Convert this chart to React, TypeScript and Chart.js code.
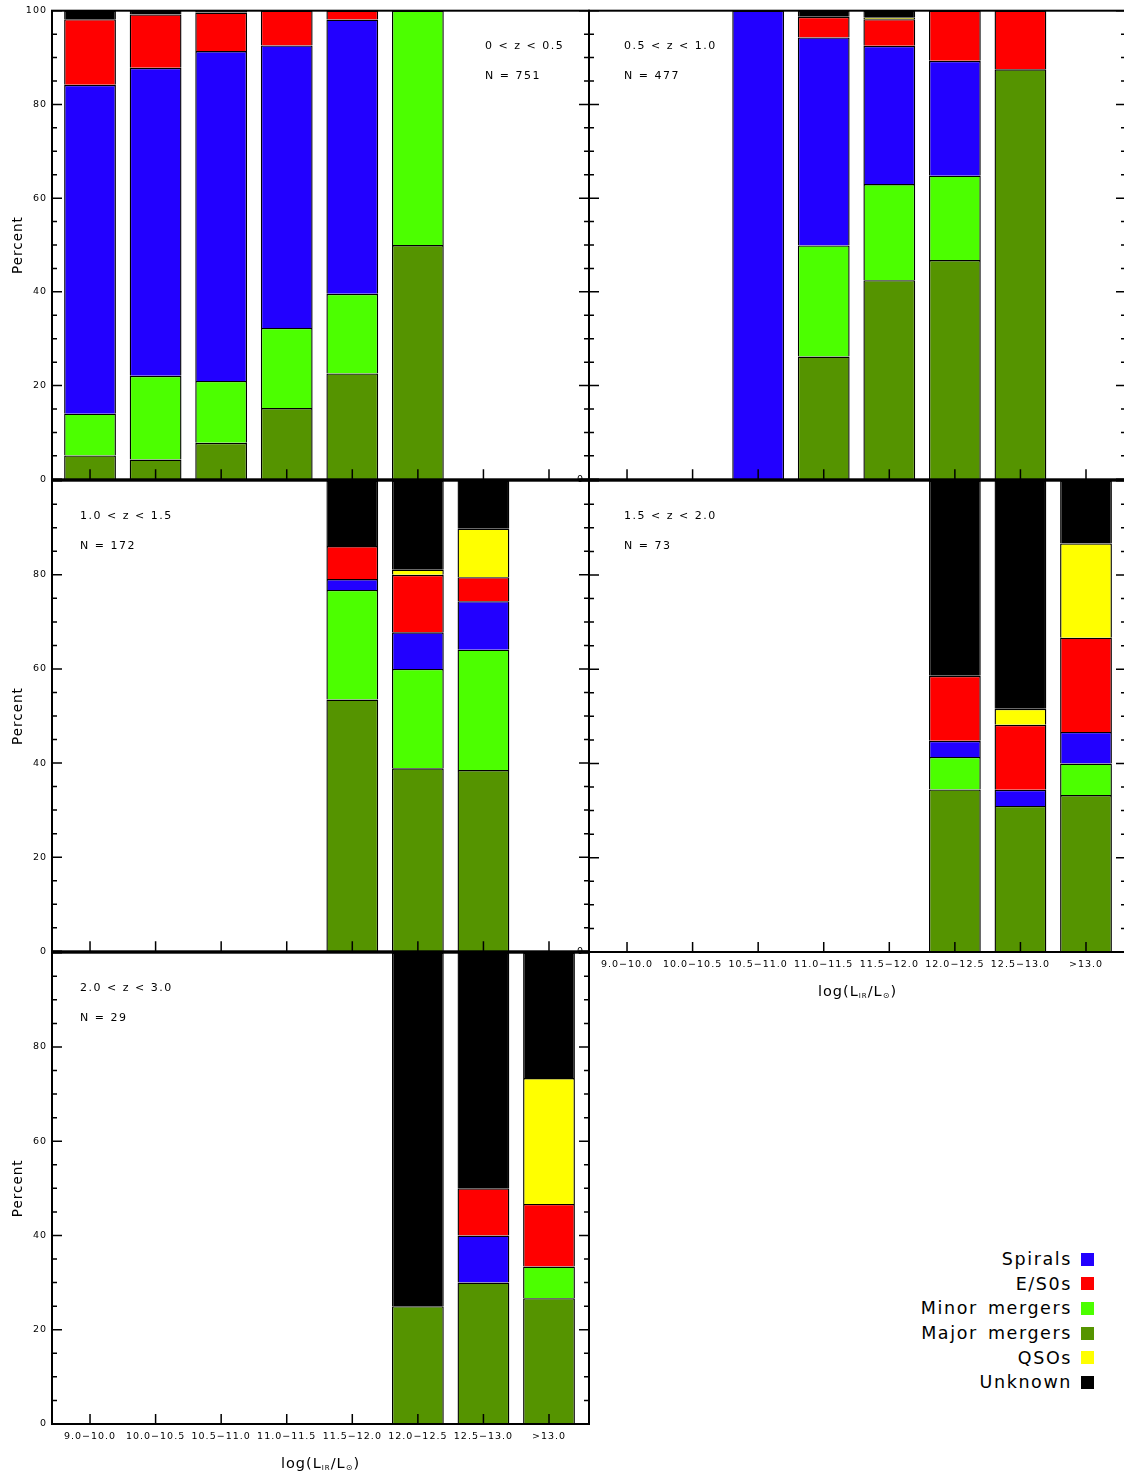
import React, { useEffect, useRef } from 'react';
import { Chart, registerables } from 'chart.js';

Chart.register(...registerables);

const FONT = '"DejaVu Sans", "Liberation Sans", sans-serif';
Chart.defaults.font.family = FONT;
Chart.defaults.color = '#000';

// Infrared luminosity bins, log(L_IR / L_sun)
const LUM_BINS = ['9.0−10.0', '10.0−10.5', '10.5−11.0', '11.0−11.5', '11.5−12.0', '12.0−12.5', '12.5−13.0', '>13.0'];
const Z_RANGES = ['0 < z < 0.5', '0.5 < z < 1.0', '1.0 < z < 1.5', '1.5 < z < 2.0', '2.0 < z < 3.0'];
const N_GALAXIES = [751, 477, 172, 73, 29];

// Percent of each morphological class per luminosity bin, one row per redshift range
const MAJOR_MERGERS = [
  [5.1, 4.2, 7.8, 15.2, 22.6, 50.0, 0, 0],
  [0, 0, 0, 26.2, 42.5, 46.8, 87.5, 0],
  [0, 0, 0, 0, 53.5, 38.9, 38.5, 0],
  [0, 0, 0, 0, 0, 34.5, 31.0, 33.3],
  [0, 0, 0, 0, 0, 25.0, 30.0, 26.7],
];
const MINOR_MERGERS = [
  [8.9, 17.9, 13.2, 17.1, 17.0, 50.0, 0, 0],
  [0, 0, 0, 23.7, 20.5, 18.0, 0, 0],
  [0, 0, 0, 0, 23.3, 21.1, 25.6, 0],
  [0, 0, 0, 0, 0, 6.9, 0, 6.7],
  [0, 0, 0, 0, 0, 0, 0, 6.7],
];
const SPIRALS = [
  [70.2, 65.7, 70.4, 60.3, 58.5, 0, 0, 0],
  [0, 0, 100, 44.4, 29.5, 24.5, 0, 0],
  [0, 0, 0, 0, 2.3, 7.8, 10.3, 0],
  [0, 0, 0, 0, 0, 3.4, 3.4, 6.7],
  [0, 0, 0, 0, 0, 0, 10.0, 0],
];
const E_S0S = [
  [14.0, 11.4, 8.2, 7.4, 1.9, 0, 0, 0],
  [0, 0, 0, 4.4, 5.7, 10.7, 12.5, 0],
  [0, 0, 0, 0, 7.0, 12.2, 5.1, 0],
  [0, 0, 0, 0, 0, 13.8, 13.8, 20.0],
  [0, 0, 0, 0, 0, 0, 10.0, 13.3],
];
const QSOS = [
  [0, 0, 0, 0, 0, 0, 0, 0],
  [0, 0, 0, 0, 0.3, 0, 0, 0],
  [0, 0, 0, 0, 0, 1.1, 10.3, 0],
  [0, 0, 0, 0, 0, 0, 3.4, 20.0],
  [0, 0, 0, 0, 0, 0, 0, 26.7],
];
const UNKNOWN = [
  [1.8, 0.8, 0.4, 0, 0, 0, 0, 0],
  [0, 0, 0, 1.3, 1.5, 0, 0, 0],
  [0, 0, 0, 0, 13.9, 18.9, 10.2, 0],
  [0, 0, 0, 0, 0, 41.4, 48.4, 13.3],
  [0, 0, 0, 0, 0, 75.0, 50.0, 26.6],
];

const Y_TICK_LABELS_FULL = [0, 20, 40, 60, 80, 100];
const Y_TICK_LABELS_LOWER = [0, 20, 40, 60, 80];
const Y_TICK_LABELS_ZERO = [0];

// Stacking order, bottom to top
const SERIES = [
  { label: 'Major mergers', values: MAJOR_MERGERS, color: '#559400' },
  { label: 'Minor mergers', values: MINOR_MERGERS, color: '#4cff00' },
  { label: 'Spirals', values: SPIRALS, color: '#2200ff' },
  { label: 'E/S0s', values: E_S0S, color: '#ff0000' },
  { label: 'QSOs', values: QSOS, color: '#ffff00' },
  { label: 'Unknown', values: UNKNOWN, color: '#000000' },
];
const LEGEND_ORDER = ['Spirals', 'E/S0s', 'Minor mergers', 'Major mergers', 'QSOs', 'Unknown'];

// Panel grid geometry
const COLS = [
  { left: 52, right: 589, axisW: 52 },
  { left: 589, right: 1126, axisW: 20 },
];
const ROWS = [8, 480, 952];
const PANEL_H = 472;
const PAGE_H = 1476;
const X_MIN = -0.58;
const X_MAX = 7.61;

const PANELS = [
  { col: 0, row: 0, yLabels: Y_TICK_LABELS_FULL, showLum: false, noteDx: 433, percent: true },
  { col: 1, row: 0, yLabels: Y_TICK_LABELS_ZERO, showLum: false, noteDx: 35, percent: false },
  { col: 0, row: 1, yLabels: Y_TICK_LABELS_LOWER, showLum: false, noteDx: 28, percent: true },
  { col: 1, row: 1, yLabels: Y_TICK_LABELS_ZERO, showLum: true, noteDx: 35, percent: false },
  { col: 0, row: 2, yLabels: Y_TICK_LABELS_LOWER, showLum: true, noteDx: 28, percent: true },
];

// log(L_IR / L_sun) with subscripts
function drawLumTitle(ctx: CanvasRenderingContext2D, cx: number, cy: number) {
  const parts: any[] = [
    { t: 'log(L', size: 14.5, dy: 0 },
    { t: 'IR', size: 7, dy: 4 },
    { t: '/L', size: 14.5, dy: 0 },
    { t: '⊙', size: 8, dy: 4 },
    { t: ')', size: 14.5, dy: 0 },
  ];
  (ctx as any).letterSpacing = '1px';
  let total = 0;
  parts.forEach((p) => {
    ctx.font = `${p.size}px ${FONT}`;
    p.w = ctx.measureText(p.t).width;
    total += p.w;
  });
  let x = cx - total / 2;
  ctx.textAlign = 'left';
  ctx.textBaseline = 'middle';
  parts.forEach((p) => {
    ctx.font = `${p.size}px ${FONT}`;
    ctx.fillText(p.t, x, cy + p.dy);
    x += p.w;
  });
}

// Box frame, inward ticks and the panel annotations
const panelFrame = {
  id: 'panelFrame',
  beforeDraw(chart: any) {
    chart.ctx.letterSpacing = '1px';
  },
  afterDraw(chart: any, _args: any, opts: any) {
    const { ctx, chartArea: a } = chart;
    const xs = chart.scales.x;
    const ys = chart.scales.y;
    ctx.save();
    ctx.strokeStyle = '#000';
    ctx.lineWidth = 1.5;
    ctx.beginPath();
    for (let v = 0; v <= 100; v += 5) {
      const py = ys.getPixelForValue(v);
      const len = v % 20 === 0 ? 10 : 5;
      ctx.moveTo(a.left, py);
      ctx.lineTo(a.left + len, py);
      ctx.moveTo(a.right, py);
      ctx.lineTo(a.right - len, py);
    }
    LUM_BINS.forEach((_, i) => {
      const px = xs.getPixelForValue(i);
      ctx.moveTo(px, a.bottom);
      ctx.lineTo(px, a.bottom - 10);
    });
    ctx.stroke();
    ctx.lineWidth = 2;
    ctx.strokeRect(a.left, a.top, a.right - a.left, a.bottom - a.top);

    ctx.fillStyle = '#000';
    ctx.font = `11px ${FONT}`;
    ctx.letterSpacing = '1.5px';
    ctx.textAlign = 'left';
    ctx.textBaseline = 'middle';
    ctx.fillText(opts.range, a.left + opts.noteDx, a.top + 35);
    ctx.fillText(`N = ${opts.n}`, a.left + opts.noteDx, a.top + 65);

    if (opts.showLum) drawLumTitle(ctx, (a.left + a.right) / 2, a.bottom + 40);
    ctx.restore();
  },
};

function panelBox(p: any) {
  const c = COLS[p.col];
  const top = ROWS[p.row];
  const padTop = p.row === 0 ? top : 10;
  const axisH = p.showLum ? 20 : 0;
  const bottomEdge = top + PANEL_H + axisH;
  const padBottom = p.showLum ? Math.min(45, PAGE_H - bottomEdge) : 10;
  const left = c.left - c.axisW;
  const padRight = 7;
  return {
    left,
    top: top - padTop,
    width: c.right + padRight - left,
    height: padTop + PANEL_H + axisH + padBottom,
    padTop,
    padBottom,
    padRight,
    axisW: c.axisW,
    axisH,
  };
}

function Panel({ index }: { index: number }) {
  const ref = useRef<HTMLCanvasElement>(null);
  const p = PANELS[index];
  const box = panelBox(p);

  useEffect(() => {
    const chart = new Chart(ref.current as HTMLCanvasElement, {
      type: 'bar',
      data: {
        datasets: SERIES.map((s) => ({
          label: s.label,
          data: s.values[index].map((v, i) => ({ x: i, y: v > 0 ? v : null })),
          backgroundColor: s.color,
          borderColor: '#000',
          borderWidth: 1.4,
          borderSkipped: 'start',
          categoryPercentage: 1,
          barPercentage: 0.79,
        })),
      } as any,
      options: {
        responsive: false,
        animation: false,
        devicePixelRatio: 1,
        layout: { padding: { left: 0, right: box.padRight, top: box.padTop, bottom: box.padBottom } },
        plugins: {
          legend: { display: false },
          tooltip: { enabled: false },
          panelFrame: { range: Z_RANGES[index], n: N_GALAXIES[index], noteDx: p.noteDx, showLum: p.showLum },
        } as any,
        scales: {
          x: {
            type: 'linear',
            min: X_MIN,
            max: X_MAX,
            offset: false,
            bounds: 'data',
            stacked: true,
            display: p.showLum,
            afterBuildTicks: (s: any) => {
              s.ticks = LUM_BINS.map((_, i) => ({ value: i }));
            },
            afterFit: (s: any) => {
              s.height = box.axisH;
            },
            grid: { display: false, drawTicks: false, offset: false },
            border: { display: false },
            ticks: {
              autoSkip: false,
              maxRotation: 0,
              minRotation: 0,
              padding: 7,
              font: { size: 9.5 },
              color: '#000',
              callback: (_v: any, i: number) => LUM_BINS[i] ?? '',
            },
          },
          y: {
            min: 0,
            max: 100,
            stacked: true,
            afterFit: (s: any) => {
              s.width = box.axisW;
            },
            grid: { display: false, drawTicks: false },
            border: { display: false },
            ticks: {
              stepSize: 20,
              padding: 5,
              font: { size: 9.5 },
              color: '#000',
              callback: (v: any) => (p.yLabels.includes(v) ? String(v) : ''),
            },
            title: {
              display: p.percent,
              text: 'Percent',
              color: '#000',
              font: { size: 13.5 },
              padding: { top: 10, bottom: 0 },
            },
          },
        } as any,
      },
      plugins: [panelFrame as any],
    });
    return () => chart.destroy();
  }, []);

  return (
    <canvas
      ref={ref}
      width={box.width}
      height={box.height}
      style={{ position: 'absolute', left: box.left, top: box.top, display: 'block' }}
    />
  );
}

function Legend() {
  return (
    <div
      style={{
        position: 'absolute',
        right: 30,
        top: 1247,
        fontFamily: FONT,
        fontSize: 17.5,
        letterSpacing: '1.6px',
        wordSpacing: '3px',
        color: '#000',
      }}
    >
      {LEGEND_ORDER.map((name) => {
        const s = SERIES.find((d) => d.label === name)!;
        return (
          <div
            key={name}
            style={{ display: 'flex', justifyContent: 'flex-end', alignItems: 'center', height: 24.6, whiteSpace: 'nowrap' }}
          >
            <span>{name}</span>
            <span style={{ display: 'inline-block', width: 13, height: 13, background: s.color, marginLeft: 9 }} />
          </div>
        );
      })}
    </div>
  );
}

export default function App() {
  return (
    <div
      style={{
        position: 'absolute',
        left: 0,
        top: 0,
        width: 1124,
        height: PAGE_H,
        overflow: 'hidden',
        background: '#fff',
      }}
    >
      {PANELS.map((_, i) => (
        <Panel key={i} index={i} />
      ))}
      <Legend />
    </div>
  );
}
